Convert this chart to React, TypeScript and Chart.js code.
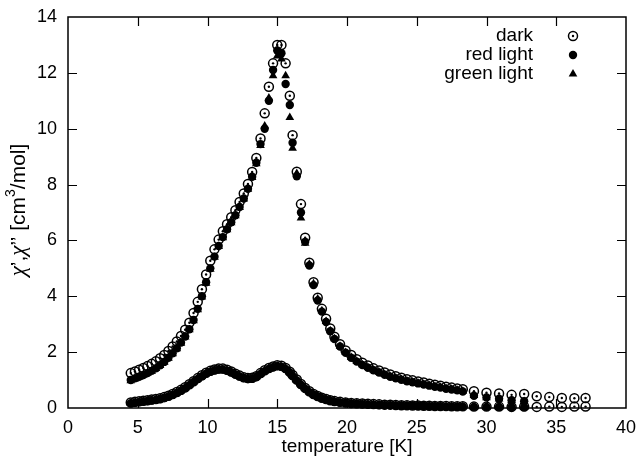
import React, { useEffect, useRef } from "react";
import { Chart, registerables } from "chart.js";

Chart.register(...registerables);

// ---------------- data ----------------
const temps = [
  4.5, 4.8, 5.1, 5.4, 5.7, 6.0, 6.3, 6.6, 6.9, 7.2,
  7.5, 7.8, 8.1, 8.4, 8.7, 9.0, 9.3, 9.6, 9.9, 10.2,
  10.5, 10.8, 11.1, 11.4, 11.7, 12.0, 12.3, 12.6, 12.9, 13.2,
  13.5, 13.8, 14.1, 14.4, 14.7, 15.0, 15.3, 15.6, 15.9, 16.1,
  16.4, 16.7, 17.0, 17.3, 17.6, 17.9, 18.2, 18.5, 18.8, 19.1,
  19.5, 19.9, 20.3, 20.7, 21.1, 21.5, 21.9, 22.3, 22.7, 23.1,
  23.5, 23.9, 24.3, 24.7, 25.1, 25.5, 25.9, 26.3, 26.7, 27.1,
  27.5, 27.9, 28.3, 29.1, 30.0, 30.9, 31.8, 32.7, 33.6, 34.5,
  35.4, 36.3, 37.1,
];

// chi' (upper curves)
const darkChiReal = [
  1.25, 1.31, 1.37, 1.43, 1.5, 1.58, 1.67, 1.78, 1.9, 2.04,
  2.2, 2.38, 2.58, 2.8, 3.05, 3.4, 3.8, 4.25, 4.78, 5.27,
  5.68, 6.03, 6.33, 6.58, 6.83, 7.08, 7.38, 7.68, 8.02, 8.45,
  8.95, 9.65, 10.55, 11.5, 12.34, 13.0, 13.0, 12.34, 11.18, 9.77,
  8.46, 7.3, 6.1, 5.2, 4.5, 3.95, 3.55, 3.2, 2.85, 2.55,
  2.28, 2.06, 1.9, 1.75, 1.62, 1.52, 1.42, 1.34, 1.27, 1.2,
  1.14, 1.08, 1.03, 0.99, 0.95, 0.91, 0.87, 0.83, 0.8, 0.76,
  0.73, 0.7, 0.67, 0.6, 0.55, 0.52, 0.47, 0.5, 0.42, 0.39,
  0.36, 0.35, 0.36,
];
const redChiReal = [
  1.0, 1.06, 1.12, 1.18, 1.25, 1.33, 1.42, 1.53, 1.65, 1.8,
  1.96, 2.14, 2.34, 2.56, 2.82, 3.15, 3.55, 4.0, 4.5, 5.0,
  5.42, 5.8, 6.12, 6.4, 6.65, 6.9, 7.2, 7.5, 7.85, 8.28,
  8.78, 9.45, 10.0, 11.0, 12.1, 12.8, 12.7, 11.6, 10.85, 9.5,
  8.3, 7.0, 5.95, 5.1, 4.4, 3.85, 3.45, 3.08, 2.75, 2.47,
  2.2, 1.98, 1.8, 1.66, 1.54, 1.44, 1.35, 1.27, 1.19, 1.12,
  1.06, 1.01, 0.96, 0.92, 0.88, 0.84, 0.8, 0.76, 0.73, 0.69,
  0.66, 0.63, 0.59, 0.44, 0.38, 0.33, 0.28, 0.24, null, null,
  null, null, null,
];
const greenChiReal = [
  0.98, 1.04, 1.1, 1.17, 1.24, 1.32, 1.41, 1.52, 1.64, 1.78,
  1.94, 2.12, 2.32, 2.54, 2.8, 3.12, 3.52, 3.97, 4.47, 4.97,
  5.4, 5.78, 6.1, 6.38, 6.63, 6.88, 7.18, 7.48, 7.83, 8.25,
  8.75, 9.4, 10.1, 11.1, 11.9, 12.6, 12.5, 11.9, 10.4, 9.3,
  8.4, 6.8, 5.9, 5.15, 4.45, 3.9, 3.48, 3.1, 2.77, 2.48,
  2.21, 1.99, 1.81, 1.67, 1.55, 1.45, 1.36, 1.28, 1.2, 1.13,
  1.07, 1.02, 0.97, 0.93, 0.89, 0.85, 0.81, 0.77, 0.74, 0.7,
  0.67, 0.64, 0.6, 0.45, 0.37, 0.32, 0.27, 0.23, null, null,
  null, null, null,
];

// chi'' (lower curves)
const darkChiImag = [
  0.2, 0.22, 0.24, 0.26, 0.28, 0.3, 0.32, 0.35, 0.39, 0.44,
  0.5, 0.57, 0.65, 0.74, 0.85, 0.96, 1.07, 1.17, 1.26, 1.33,
  1.38, 1.41, 1.41, 1.37, 1.31, 1.23, 1.16, 1.1, 1.07, 1.08,
  1.14, 1.25, 1.35, 1.43, 1.49, 1.53, 1.51, 1.43, 1.3, 1.18,
  1.02, 0.86, 0.72, 0.6, 0.5, 0.43, 0.37, 0.32, 0.28, 0.25,
  0.22, 0.2, 0.18, 0.17, 0.16, 0.15, 0.14, 0.13, 0.12, 0.12,
  0.11, 0.1, 0.1, 0.09, 0.09, 0.08, 0.08, 0.07, 0.07, 0.07,
  0.06, 0.06, 0.06, 0.05, 0.05, 0.05, 0.04, 0.05, 0.04, 0.05,
  0.04, 0.05, 0.05,
];
const redChiImag = [
  0.17, 0.19, 0.21, 0.23, 0.25, 0.27, 0.29, 0.32, 0.36, 0.41,
  0.47, 0.54, 0.62, 0.71, 0.82, 0.93, 1.04, 1.14, 1.23, 1.3,
  1.35, 1.38, 1.38, 1.34, 1.28, 1.2, 1.13, 1.07, 1.04, 1.05,
  1.11, 1.22, 1.32, 1.4, 1.46, 1.5, 1.48, 1.4, 1.27, 1.15,
  0.99, 0.83, 0.69, 0.57, 0.48, 0.41, 0.35, 0.3, 0.26, 0.23,
  0.2, 0.18, 0.16, 0.15, 0.14, 0.13, 0.12, 0.11, 0.1, 0.1,
  0.09, 0.09, 0.08, 0.08, 0.07, 0.07, 0.06, 0.06, 0.06, 0.05,
  0.05, 0.05, 0.05, 0.04, 0.04, 0.04, 0.03, 0.03, null, null,
  null, null, null,
];
const greenChiImag = [
  0.18, 0.2, 0.22, 0.24, 0.26, 0.28, 0.3, 0.33, 0.37, 0.42,
  0.48, 0.55, 0.63, 0.72, 0.83, 0.94, 1.05, 1.15, 1.24, 1.31,
  1.36, 1.39, 1.39, 1.35, 1.29, 1.21, 1.14, 1.08, 1.05, 1.06,
  1.12, 1.23, 1.33, 1.41, 1.47, 1.5, 1.47, 1.41, 1.28, 1.16,
  1.0, 0.84, 0.7, 0.58, 0.49, 0.42, 0.36, 0.31, 0.27, 0.24,
  0.21, 0.19, 0.17, 0.16, 0.15, 0.14, 0.13, 0.12, 0.11, 0.11,
  0.1, 0.09, 0.09, 0.08, 0.08, 0.07, 0.07, 0.06, 0.06, 0.06,
  0.05, 0.05, 0.05, 0.04, 0.04, 0.04, 0.04, 0.03, null, null,
  null, null, null,
];

const seriesLabels = ["dark", "red light", "green light"];
const xTickValues = [0, 5, 10, 15, 20, 25, 30, 35, 40];
const yTickValues = [0, 2, 4, 6, 8, 10, 12, 14];
const xTitle = "temperature [K]";

const FONT = "'Liberation Sans', Arial, Helvetica, sans-serif";

function toPoints(vals: (number | null)[]) {
  const out: { x: number; y: number }[] = [];
  temps.forEach((t, i) => {
    const v = vals[i];
    if (v !== null && v !== undefined) out.push({ x: t, y: v });
  });
  return out;
}

export default function App() {
  const canvasRef = useRef<HTMLCanvasElement | null>(null);

  useEffect(() => {
    document.body.style.margin = "0";
    const canvas = canvasRef.current;
    if (!canvas) return;

    const framePlugin = {
      id: "framePlugin",
      afterDraw(chart: any) {
        const { ctx, chartArea: a, scales } = chart;
        ctx.save();
        ctx.strokeStyle = "#000";
        // inward ticks on all four sides
        ctx.lineWidth = 1.2;
        const tl = 9;
        ctx.beginPath();
        xTickValues.forEach((v) => {
          const px = Math.round(scales.x.getPixelForValue(v)) + 0.5;
          if (px <= a.left + 1 || px >= a.right - 1) return;
          ctx.moveTo(px, a.bottom);
          ctx.lineTo(px, a.bottom - tl);
          ctx.moveTo(px, a.top);
          ctx.lineTo(px, a.top + tl);
        });
        yTickValues.forEach((v) => {
          const py = Math.round(scales.y.getPixelForValue(v)) + 0.5;
          if (py <= a.top + 1 || py >= a.bottom - 1) return;
          ctx.moveTo(a.left, py);
          ctx.lineTo(a.left + tl, py);
          ctx.moveTo(a.right, py);
          ctx.lineTo(a.right - tl, py);
        });
        ctx.stroke();
        // frame
        ctx.lineWidth = 1.5;
        ctx.strokeRect(a.left, a.top, a.right - a.left, a.bottom - a.top);

        // x title
        ctx.fillStyle = "#000";
        ctx.font = `19px ${FONT}`;
        ctx.textAlign = "center";
        ctx.textBaseline = "middle";
        ctx.fillText(xTitle, (a.left + a.right) / 2, 447);

        // y title (rotated, with superscript)
        const pieces: { t: string; font: string; dy: number }[] = [
          { t: "\u03C7", font: `italic 23px 'Liberation Serif', serif`, dy: 0 },
          { t: "\u2019,", font: `21px ${FONT}`, dy: 0 },
          { t: "\u03C7", font: `italic 23px 'Liberation Serif', serif`, dy: 0 },
          { t: "\u2019\u2019 [cm", font: `21px ${FONT}`, dy: 0 },
          { t: "3", font: `14px ${FONT}`, dy: -8 },
          { t: "/mol]", font: `21px ${FONT}`, dy: 0 },
        ];
        let total = 0;
        pieces.forEach((p) => {
          ctx.font = p.font;
          total += ctx.measureText(p.t).width;
        });
        ctx.translate(19, 210);
        ctx.rotate(-Math.PI / 2);
        ctx.textAlign = "left";
        let x = -total / 2;
        pieces.forEach((p) => {
          ctx.font = p.font;
          ctx.fillText(p.t, x, p.dy);
          x += ctx.measureText(p.t).width;
        });
        ctx.setTransform(1, 0, 0, 1, 0, 0);

        // legend
        const rows = [36, 55, 74];
        const mx = 573;
        ctx.font = `19px ${FONT}`;
        ctx.textAlign = "right";
        ctx.textBaseline = "middle";
        seriesLabels.forEach((lbl, i) => {
          ctx.fillText(lbl, 533, rows[i]);
        });
        ctx.lineWidth = 1.5;
        ctx.beginPath();
        ctx.arc(mx, rows[0], 4.5, 0, Math.PI * 2);
        ctx.stroke();
        ctx.beginPath();
        ctx.arc(mx, rows[0], 1.2, 0, Math.PI * 2);
        ctx.fill();
        ctx.beginPath();
        ctx.arc(mx, rows[1], 4.2, 0, Math.PI * 2);
        ctx.fill();
        ctx.beginPath();
        const r = 5;
        ctx.moveTo(mx, rows[2] - r);
        ctx.lineTo(mx + r * 0.866, rows[2] + r / 2);
        ctx.lineTo(mx - r * 0.866, rows[2] + r / 2);
        ctx.closePath();
        ctx.fill();
        ctx.restore();
      },
    };

    const filled = { showLine: false, clip: false as any, borderWidth: 0, backgroundColor: "#000", borderColor: "#000" };
    const ring = { showLine: false, clip: false as any, pointStyle: "circle", pointRadius: 4.5, borderWidth: 1.5, borderColor: "#000", backgroundColor: "rgba(0,0,0,0)" };
    const dot = { showLine: false, clip: false as any, pointStyle: "circle", pointRadius: 1.2, borderWidth: 0, backgroundColor: "#000", borderColor: "#000" };

    const chart = new Chart(canvas, {
      type: "scatter",
      data: {
        datasets: [
          { ...filled, label: seriesLabels[2], data: toPoints(greenChiReal), pointStyle: "triangle", pointRadius: 5, order: 3 },
          { ...filled, label: seriesLabels[2] + " ''", data: toPoints(greenChiImag), pointStyle: "triangle", pointRadius: 5, order: 3 },
          { ...filled, label: seriesLabels[1], data: toPoints(redChiReal), pointStyle: "circle", pointRadius: 4.2, order: 2 },
          { ...filled, label: seriesLabels[1] + " ''", data: toPoints(redChiImag), pointStyle: "circle", pointRadius: 4.2, order: 2 },
          { ...ring, label: seriesLabels[0], data: toPoints(darkChiReal), order: 1 },
          { ...ring, label: seriesLabels[0] + " ''", data: toPoints(darkChiImag), order: 1 },
          { ...dot, label: seriesLabels[0] + " c", data: toPoints(darkChiReal), order: 0 },
          { ...dot, label: seriesLabels[0] + " c''", data: toPoints(darkChiImag), order: 0 },
        ],
      },
      options: {
        animation: false,
        responsive: false,
        maintainAspectRatio: false,
        events: [],
        layout: { padding: { top: 17, right: 14, left: 0, bottom: 0 } },
        plugins: {
          legend: { display: false },
          tooltip: { enabled: false },
          title: { display: false },
        },
        scales: {
          x: {
            type: "linear",
            min: 0,
            max: 40,
            afterBuildTicks: (scale: any) => {
              scale.ticks = xTickValues.map((v) => ({ value: v }));
            },
            afterFit: (scale: any) => {
              scale.height = 57;
              scale.paddingLeft = 0;
              scale.paddingRight = 0;
            },
            grid: { display: false, drawTicks: false },
            border: { display: false },
            ticks: {
              autoSkip: false,
              maxRotation: 0,
              padding: 9,
              color: "#000",
              font: { family: FONT, size: 18 },
            },
          },
          y: {
            type: "linear",
            min: 0,
            max: 14,
            afterBuildTicks: (scale: any) => {
              scale.ticks = yTickValues.map((v) => ({ value: v }));
            },
            afterFit: (scale: any) => {
              scale.width = 68;
              scale.paddingTop = 0;
              scale.paddingBottom = 0;
            },
            grid: { display: false, drawTicks: false },
            border: { display: false },
            ticks: {
              autoSkip: false,
              padding: 11,
              color: "#000",
              font: { family: FONT, size: 18 },
            },
          },
        },
      },
      plugins: [framePlugin],
    });

    return () => {
      chart.destroy();
    };
  }, []);

  return (
    <div style={{ width: 640, height: 465, background: "#fff" }}>
      <canvas ref={canvasRef} width={640} height={465} style={{ display: "block", width: 640, height: 465 }} />
    </div>
  );
}
